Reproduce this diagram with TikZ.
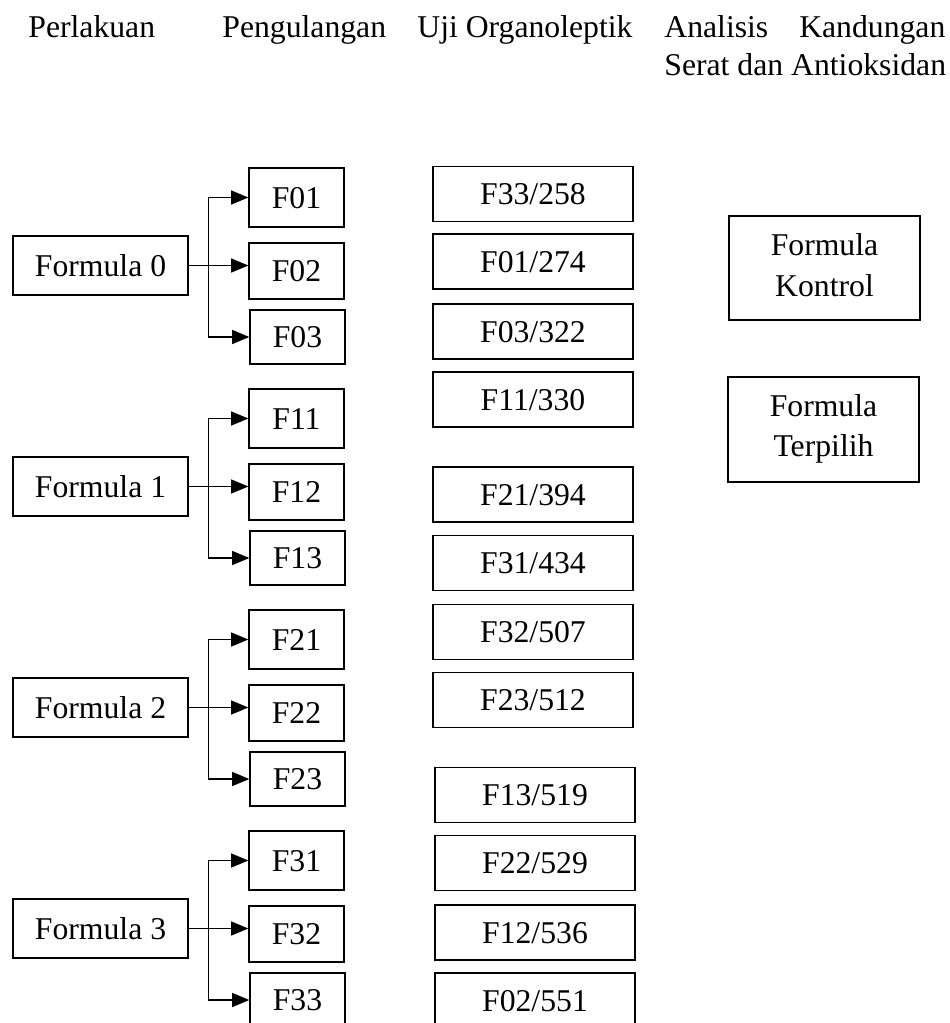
\documentclass[tikz,border=0pt]{standalone}
\usepackage{fontspec}
\setmainfont{Liberation Serif}
\usetikzlibrary{arrows.meta}
\begin{document}
\begin{tikzpicture}[x=0.5pt,y=-0.5pt,
  every node/.style={font=\fontsize{15.85pt}{20pt}\selectfont, inner sep=0pt},
  box/.style={draw, line width=0.65pt, text height=10.5pt, text depth=0pt},
  fbox/.style={box, minimum width=87.5pt, minimum height=29.5pt},
  rbox/.style={box, minimum width=47.5pt},
  obox/.style={box, minimum width=100pt, minimum height=27.5pt},
  tbox/.style={draw, line width=0.65pt, minimum width=95.5pt},
  arr/.style={line width=0.65pt, -{Triangle[length=8.6pt,width=7pt]}},
  ln/.style={line width=0.65pt}]
\useasboundingbox (0,0) rectangle (949,1023);

% headers
\node[anchor=base west] (h1) at (28,37) {Perlakuan};
\node[anchor=base west] (h2) at (222,37) {Pengulangan};
\node[anchor=base west] (h3) at (417,37) {Uji Organoleptik};
\node[anchor=base west] (h4a) at (664,37) {\makebox[140.5pt][s]{Analisis Kandungan}};
\node[anchor=base west] (h4b) at (664,75) {Serat dan Antioksidan};

% groups
\foreach \g/\T in {0/168,1/389,2/610,3/831}{
  \node[fbox] (P\g) at (100.5,\T+97.5) {Formula \g};
  \node[rbox, minimum height=29.5pt] (F\g1) at (296.5,\T+29.5) {F\g1};
  \node[rbox, minimum height=28pt] (F\g2) at (296.5,\T+103) {F\g2};
  \node[rbox, minimum height=27pt] (F\g3) at (297.5,\T+169) {F\g3};
  \draw[arr] (P\g.east) -- (P\g.east -| F\g2.west);
  \draw[arr] (P\g.east) ++(20,0) |- (F\g1.west);
  \draw[arr] (P\g.east) ++(20,0) |- (F\g3.west);
}

% organoleptic order
\node[obox] (U1) at (533,194) {F33/258};
\node[obox] (U2) at (533,261.5) {F01/274};
\node[obox] (U3) at (533,331.5) {F03/322};
\node[obox] (U4) at (533,399.5) {F11/330};
\node[obox] (U5) at (533,494.5) {F21/394};
\node[obox] (U6) at (533,563) {F31/434};
\node[obox] (U7) at (533,632) {F32/507};
\node[obox] (U8) at (533,700) {F23/512};
\node[obox] (U9) at (535,795) {F13/519};
\node[obox] (U10) at (535,863) {F22/529};
\node[obox] (U11) at (535,932.5) {F12/536};
\node[obox] (U12) at (535,1000.5) {F02/551};

% analysis boxes
\node[tbox, minimum height=52pt] (K) at (824.5,268) {};
\node[anchor=base] (Ka) at (824.5,255) {Formula};
\node[anchor=base] (Kb) at (824.5,296) {Kontrol};
\node[tbox, minimum height=52.5pt] (T) at (823.5,429.5) {};
\node[anchor=base] (Ta) at (823.5,416.7) {Formula};
\node[anchor=base] (Tb) at (823.5,456.7) {Terpilih};
\end{tikzpicture}
\end{document}
